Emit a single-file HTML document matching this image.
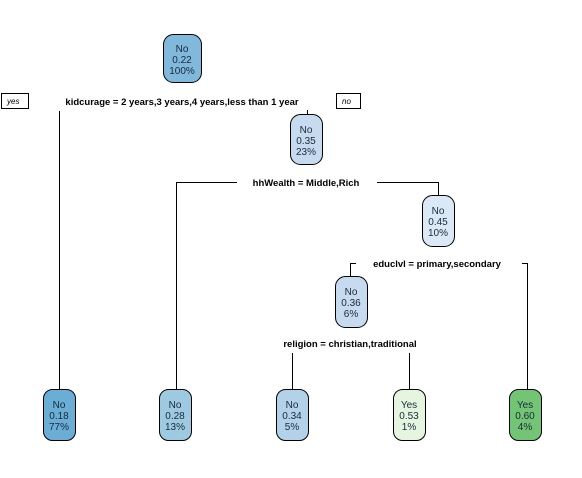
<!DOCTYPE html>
<html><head><style>body{margin:0;background:#fff}</style></head><body>
<svg width="582" height="473" xmlns="http://www.w3.org/2000/svg" font-family="Liberation Sans, Arial, sans-serif" font-size="10">
<g stroke="#000" stroke-width="1" fill="none">
<path d="M59.5 111V392M51 392.5H67"/>
<path d="M307.5 110V115"/>
<path d="M176.5 392V182.5H237M377 182.5H438.5V196M168 392.5H184"/>
<path d="M350.5 277V263.5H356M522 263.5H527.5V392M519 392.5H535"/>
<path d="M292.5 353V392M284 392.5H300M409.5 353V392M401 392.5H417"/>
</g>
<g stroke="#000" stroke-width="1">
<rect x="163.5" y="34.5" width="38" height="48" rx="10" fill="#80b9dc"/>
<rect x="290.5" y="114.5" width="32" height="50" rx="10" fill="#c6dbef"/>
<rect x="422.5" y="195.5" width="32" height="51" rx="10" fill="#dbe9f6"/>
<rect x="335.5" y="276.5" width="32" height="51" rx="10" fill="#c6dbef"/>
<rect x="43.5" y="389.5" width="32" height="51" rx="9" fill="#6aaed6"/>
<rect x="159.5" y="389.5" width="32" height="51" rx="9" fill="#9ecae1"/>
<rect x="276.5" y="389.5" width="32" height="51" rx="9" fill="#b3d1e8"/>
<rect x="393.5" y="389.5" width="32" height="51" rx="9" fill="#e5f5e0"/>
<rect x="509.5" y="389.5" width="32" height="51" rx="9" fill="#74c476"/>
<rect x="1.5" y="93.5" width="27" height="15" fill="#fff"/>
<rect x="336.5" y="93.5" width="24" height="15" fill="#fff"/>
</g>
<g fill="#1a2a3a" text-anchor="middle">
<text x="182" y="52">No</text><text x="182" y="63">0.22</text><text x="182" y="74">100%</text>
<text x="306" y="133">No</text><text x="306" y="144">0.35</text><text x="306" y="155">23%</text>
<text x="438" y="214">No</text><text x="438" y="225">0.45</text><text x="438" y="236">10%</text>
<text x="351" y="295">No</text><text x="351" y="306">0.36</text><text x="351" y="317">6%</text>
<text x="59" y="408">No</text><text x="59" y="419">0.18</text><text x="59" y="430">77%</text>
<text x="175" y="408">No</text><text x="175" y="419">0.28</text><text x="175" y="430">13%</text>
<text x="292" y="408">No</text><text x="292" y="419">0.34</text><text x="292" y="430">5%</text>
<text x="409" y="408">Yes</text><text x="409" y="419">0.53</text><text x="409" y="430">1%</text>
<text x="525" y="408">Yes</text><text x="525" y="419">0.60</text><text x="525" y="430">4%</text>
</g>
<g fill="#000" font-weight="bold" font-size="9.5" text-anchor="middle">
<text x="182" y="105">kidcurage = 2 years,3 years,4 years,less than 1 year</text>
<text x="306" y="186">hhWealth = Middle,Rich</text>
<text x="437" y="267">educlvl = primary,secondary</text>
<text x="350" y="347">religion = christian,traditional</text>
</g>
<g font-style="italic" font-size="8" fill="#000">
<text x="7" y="104">yes</text><text x="342" y="104">no</text>
</g>
</svg>
</body></html>
